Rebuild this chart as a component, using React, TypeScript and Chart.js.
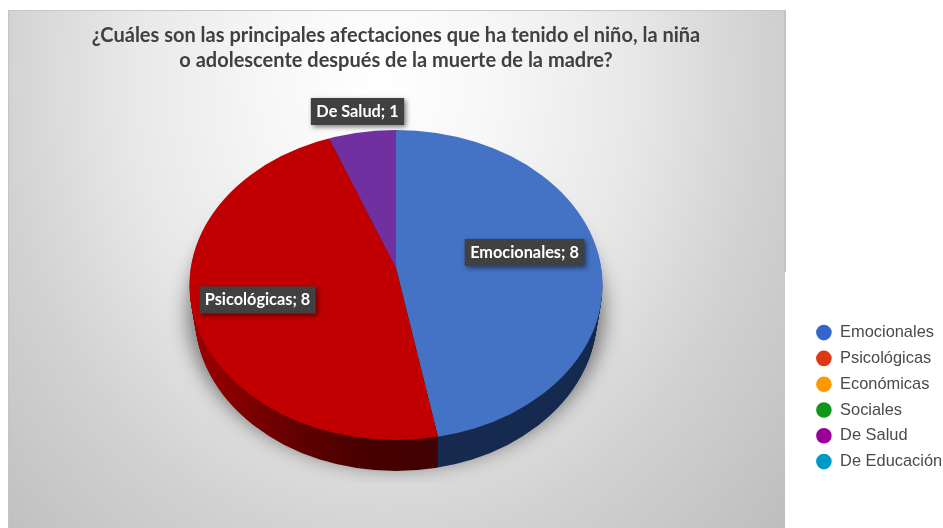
import React, { useEffect, useRef } from "react";
import { Chart, registerables } from "chart.js";

Chart.register(...registerables);

const categories = ["Emocionales", "Psicológicas", "Económicas", "Sociales", "De Salud", "De Educación"];
const values = [8, 8, 0, 0, 1, 0];
const sliceColors = ["#4472c4", "#c00000", "#ed7d31", "#70ad47", "#7030a0", "#00a0c0"];
const legendColors = ["#3366cc", "#dc3912", "#ff9900", "#109618", "#990099", "#0099c6"];
const titleLines = [
  "¿Cuáles son las principales afectaciones que ha tenido el niño, la niña",
  "o adolescente después de la muerte de la madre?",
];

// Outline of the tilted disc, and its apex: the perspective of the tilt puts the apex above the outline's middle.
const PIE = { cx: 396, cy: 285, rx: 206.5, ry: 155, depth: 31, apexY: 268, over: 1.25, shrink: 0.027 };
const LABEL_CENTERS: Record<number, [number, number]> = { 0: [128.5, -32.5], 1: [-138.5, 15], 4: [-38.5, -173.5] };

function clipDisc(ctx: CanvasRenderingContext2D, dy: number) {
  const t = dy / PIE.depth;
  ctx.beginPath();
  ctx.ellipse(PIE.cx, PIE.cy + dy, PIE.rx * (1 - PIE.shrink * t), PIE.ry, 0, 0, Math.PI * 2);
  ctx.clip();
}

function toPie(ctx: CanvasRenderingContext2D, a: any, dy = 0) {
  const s = a.outerRadius;
  ctx.translate(PIE.cx, PIE.apexY + dy);
  ctx.scale((PIE.rx * PIE.over) / s, (PIE.ry * PIE.over) / s);
  ctx.translate(-a.x, -a.y);
}

const piePlugin = {
  id: "pie3d",
  afterLayout(chart: any) {
    const t = chart.titleBlock;
    t.left = 0; t.right = 792;
    t.top = 23; t.bottom = t.top + t.height;
    const l = chart.legend;
    l.left = 806.5; l.right = 943; l.top = 315; l.bottom = 528;
  },
  beforeDatasetsDraw(chart: any) {
    const ctx: CanvasRenderingContext2D = chart.ctx;
    const arcs = chart.getDatasetMeta(0).data;
    const a0 = arcs[0];
    const scale = a0.outerRadius / (PIE.rx * PIE.over);
    const gx = (X: number) => a0.x + (X - PIE.cx) * scale;
    const red = ctx.createLinearGradient(gx(190), 0, gx(437), 0);
    red.addColorStop(0, "#a00000");
    red.addColorStop(0.2, "#820000");
    red.addColorStop(0.45, "#600000");
    red.addColorStop(0.7, "#480000");
    red.addColorStop(1, "#420000");
    const sideFill = ["#172b50", red, "#000", "#000", "#3a1a55", "#000"];

    // Soft shadow under the disc, cut off at the bottom as in the picture.
    ctx.save();
    ctx.beginPath();
    ctx.rect(0, 0, chart.width, 483);
    ctx.clip();
    ctx.shadowColor = "rgba(0,0,0,0.5)";
    ctx.shadowBlur = 20;
    ctx.shadowOffsetX = 2000;
    ctx.shadowOffsetY = 4;
    ctx.fillStyle = "#000";
    ctx.beginPath();
    ctx.ellipse(PIE.cx - 2000, PIE.cy + PIE.depth - 8, PIE.rx + 1, PIE.ry, 0, 0, Math.PI * 2);
    ctx.fill();
    ctx.restore();

    for (let dy = PIE.depth; dy >= 1; dy--) {
      arcs.forEach((arc: any, i: number) => {
        if (!arc.circumference) return;
        const saved = arc.options;
        arc.options = {
          backgroundColor: sideFill[i],
          borderColor: "transparent",
          borderWidth: 0,
          borderAlign: "center",
          borderRadius: 0,
          spacing: 0,
          offset: 0,
          circular: true,
        };
        ctx.save();
        clipDisc(ctx, dy);
        toPie(ctx, a0, dy);
        arc.draw(ctx);
        ctx.restore();
        arc.options = saved;
      });
    }
    ctx.save();
    clipDisc(ctx, 0);
    toPie(ctx, a0);
  },
  afterDatasetsDraw(chart: any) {
    const ctx: CanvasRenderingContext2D = chart.ctx;
    ctx.restore();
    const tile = document.createElement("canvas");
    tile.width = 8; tile.height = 8;
    const tc = tile.getContext("2d")!;
    tc.fillStyle = "#404040";
    tc.fillRect(0, 0, 8, 8);
    tc.fillStyle = "#525252";
    tc.fillRect(1, 1, 1, 1);
    tc.fillRect(5, 5, 1, 1);
    const pattern = ctx.createPattern(tile, "repeat")!;
    ctx.save();
    ctx.font = "bold 16.3px Lato";
    ctx.textAlign = "center";
    ctx.textBaseline = "middle";
    values.forEach((v, i) => {
      const c = LABEL_CENTERS[i];
      if (!v || !c) return;
      const text = `${categories[i]}; ${v}`;
      const w = ctx.measureText(text).width + 11;
      const x = PIE.cx + c[0];
      const y = PIE.cy + c[1];
      ctx.save();
      ctx.shadowColor = "rgba(0,0,0,0.5)";
      ctx.shadowBlur = 5;
      ctx.shadowOffsetX = 2;
      ctx.shadowOffsetY = 2;
      ctx.fillStyle = pattern;
      ctx.fillRect(x - w / 2, y - 13.5, w, 27);
      ctx.restore();
      ctx.fillStyle = "#ffffff";
      ctx.fillText(text, x, y);
    });
    ctx.restore();
  },
};

export default function App() {
  const ref = useRef<HTMLCanvasElement>(null);
  useEffect(() => {
    const chart = new Chart(ref.current!, {
      type: "pie",
      data: {
        labels: categories,
        datasets: [{ data: values, backgroundColor: sliceColors, borderWidth: 0, clip: false } as any],
      },
      plugins: [piePlugin],
      options: {
        responsive: false,
        animation: false,
        events: [],
        rotation: 0,
        plugins: {
          tooltip: { enabled: false },
          title: {
            display: true,
            text: titleLines,
            color: "#404040",
            font: { family: "Lato", size: 20, weight: "bold", lineHeight: 1.25 },
            padding: 0,
          },
          legend: {
            position: "right",
            align: "start",
            labels: {
              font: { family: "Liberation Sans", size: 16.4 },
              color: "#4a4a4a",
              usePointStyle: true,
              pointStyle: "circle",
              boxHeight: 11,
              boxWidth: 16,
              padding: 9.4,
              generateLabels: () =>
                categories.map((text, i) => ({
                  text,
                  fillStyle: legendColors[i],
                  strokeStyle: legendColors[i],
                  lineWidth: 0,
                  pointStyle: "circle",
                  fontColor: "#4a4a4a",
                  hidden: false,
                  index: i,
                })),
            },
          },
        },
      } as any,
    });
    return () => chart.destroy();
  }, []);
  return (
    <div style={{ position: "fixed", left: 0, top: 0, width: 943, height: 528, background: "#fff", overflow: "hidden" }}>
      <div
        style={{
          position: "absolute",
          left: 8,
          top: 10,
          width: 777,
          height: 518,
          boxSizing: "border-box",
          borderTop: "1px solid #c8c8c8",
          borderLeft: "1px solid #c4c4c4",
          background:
            "radial-gradient(ellipse 560px 680px at 372px 70px, #ffffff 0%, #f7f7f7 20%, #e8e8e8 45%, #d2d2d2 68%, #bcbcbc 100%)",
        }}
      />
      <div style={{ position: "absolute", left: 784, top: 10, width: 2, height: 262, background: "#c4c4c4" }} />
      <canvas ref={ref} width={943} height={528} style={{ position: "absolute", left: 0, top: 0, display: "block" }} />
    </div>
  );
}
